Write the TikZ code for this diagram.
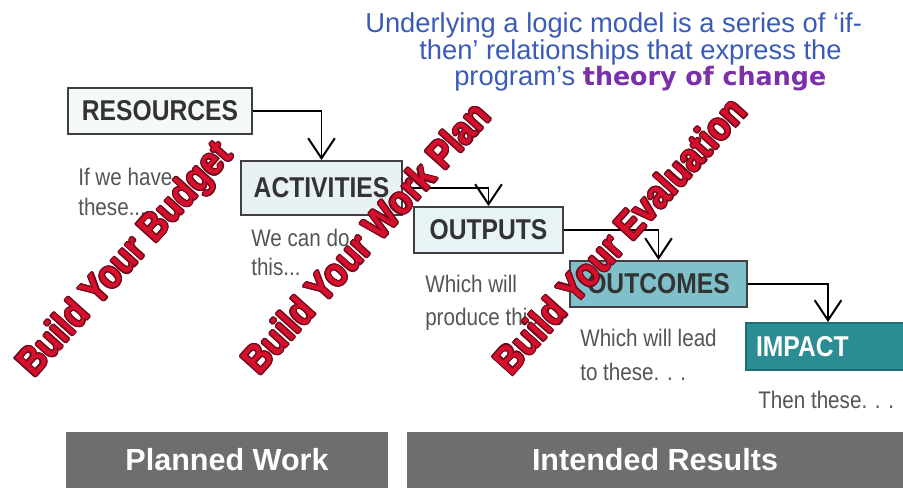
\documentclass[tikz,border=0pt]{standalone}
\usepackage{fontspec}
\setmainfont{Liberation Sans}
\newfontfamily\narrowfont{Liberation Sans}[FakeStretch=0.86]
\newfontfamily\comicfont{DejaVu Sans}
\usepackage{contour}
\usetikzlibrary{arrows.meta}
\definecolor{boxline}{HTML}{404040}
\definecolor{boxtext}{HTML}{333333}
\definecolor{descgray}{HTML}{555555}
\definecolor{resfill}{HTML}{F6F9FA}
\definecolor{actfill}{HTML}{E8F2F4}
\definecolor{outfill}{HTML}{E8F3F5}
\definecolor{ocfill}{HTML}{7FC0CA}
\definecolor{impfill}{HTML}{2C8C94}
\definecolor{impline}{HTML}{1F6E75}
\definecolor{titleblue}{HTML}{3A5BB8}
\definecolor{theorypurple}{HTML}{7B2FA8}
\definecolor{bargray}{HTML}{6E6E6E}
\definecolor{wmred}{HTML}{D6102C}
\definecolor{wmline}{HTML}{6E0A1C}
\def\pxu{0.75pt}
\contourlength{0.85pt}
\begin{document}
\begin{tikzpicture}[x=0.75pt,y=-0.75pt,
  box/.style={draw=boxline, line width=1.5pt, text=boxtext, font=\narrowfont\fontsize{21.5pt}{24pt}\selectfont\bfseries, inner sep=0pt},
  desc/.style={text=descgray, font=\narrowfont\fontsize{18pt}{#1}\selectfont, align=left, inner sep=0pt, anchor=base west},
  flow/.style={draw=black, line width=1.1pt, -{Straight Barb[length=15pt,width=20pt,line width=1.5pt]}},
  bar/.style={fill=bargray, text=white, font=\fontsize{22.9pt}{26pt}\selectfont\bfseries, inner sep=0pt},
  wm/.style={text=wmred, font=\narrowfont\fontsize{30pt}{32pt}\selectfont\bfseries, inner sep=0pt, rotate=48},
  title/.style={text=titleblue, font=\fontsize{20.5pt}{24pt}\selectfont, inner sep=0pt, anchor=base west}]
\clip (0,0) rectangle (903,487);
\fill[white] (0,0) rectangle (903,487);

% title
\node[title] (t1) at (365,32) {Underlying a logic model is a series of ‘if-};
\node[title] (t2) at (419,59) {then’ relationships that express the};
\node[title] (t3) at (454,85) {program’s {\comicfont\bfseries\color{theorypurple}\fontsize{19pt}{24pt}\selectfont theory of change}};

% boxes
\node[box, fill=resfill, minimum width=184*\pxu, minimum height=46*\pxu] (res) at (160,111) {RESOURCES};
\node[box, fill=actfill, minimum width=161*\pxu, minimum height=54*\pxu] (act) at (321.5,188) {ACTIVITIES};
\node[box, fill=outfill, minimum width=149*\pxu, minimum height=46*\pxu] (out) at (488.5,230) {OUTPUTS};
\node[box, fill=ocfill, minimum width=177*\pxu, minimum height=46*\pxu] (oc) at (658.5,284) {OUTCOMES};
\node[box, fill=impfill, draw=impline, text=white, align=left, text width=144*\pxu, inner xsep=10*\pxu, minimum height=47*\pxu] (imp) at (828,346.5) {IMPACT};

% connectors
\draw[flow] (res.east) -| (act.north);
\draw[flow] (act.east) -| (out.north);
\draw[flow] (out.east) -| (oc.north);
\draw[flow] (oc.east) -| (imp.north);

% descriptions (anchored at the baseline of the last line)
\node[desc=22.5pt] (d1) at (78,215) {If we have\\these...};
\node[desc=21.75pt] (d2) at (251,275) {We can do\\this...};
\node[desc=24.75pt] (d3) at (425,325) {Which will\\produce this};
\node[desc=25.5pt] (d4) at (580,380) {Which will lead\\to these. . .};
\node[desc=22.5pt] (d5) at (758,408) {Then these. . .};

% bottom bars
\node[bar, minimum width=322*\pxu, minimum height=56*\pxu] (pw) at (227,460) {Planned Work};
\node[bar, minimum width=496*\pxu, minimum height=56*\pxu] (ir) at (655,460) {Intended Results};

% watermarks
\node[wm] (wm1) at (127,261) {\contour{wmline}{Build Your Budget}};
\node[wm] (wm2) at (366,238) {\contour{wmline}{Build Your Work Plan}};
\node[wm] (wm3) at (620,236) {\contour{wmline}{Build Your Evaluation}};
\end{tikzpicture}
\end{document}
